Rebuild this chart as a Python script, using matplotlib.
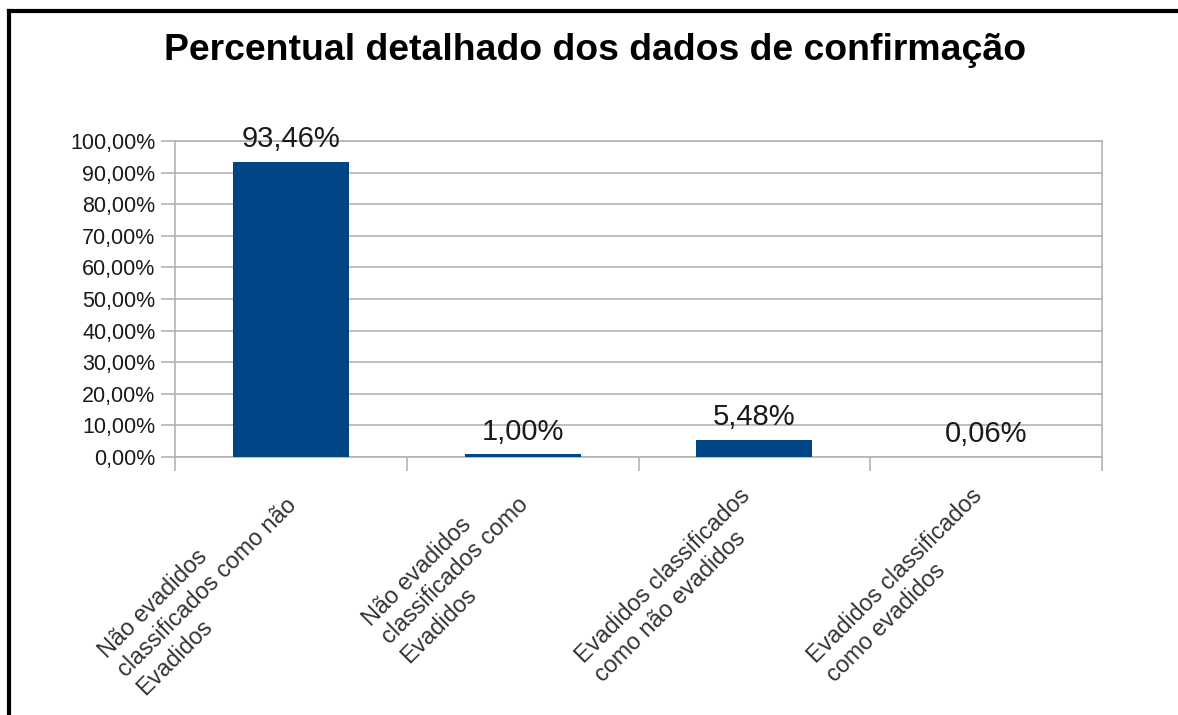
import matplotlib
matplotlib.use("Agg")
import matplotlib.pyplot as plt
from matplotlib.lines import Line2D
from matplotlib.transforms import ScaledTranslation
import numpy as np

categories = [
    "Não evadidos\nclassificados como não\nEvadidos",
    "Não evadidos\nclassificados como\nEvadidos",
    "Evadidos classificados\ncomo não evadidos",
    "Evadidos classificados\ncomo evadidos",
]
values = [93.46, 1.00, 5.48, 0.06]
value_labels = ["93,46%", "1,00%", "5,48%", "0,06%"]
yticks = [0, 10, 20, 30, 40, 50, 60, 70, 80, 90, 100]
ytick_labels = ["0,00%", "10,00%", "20,00%", "30,00%", "40,00%", "50,00%",
                "60,00%", "70,00%", "80,00%", "90,00%", "100,00%"]
title = "Percentual detalhado dos dados de confirmação"

plt.rcParams['font.family'] = ['Liberation Sans', 'DejaVu Sans']

W, H = 1178, 715
fig = plt.figure(figsize=(W/100, H/100), dpi=100)
ax = fig.add_axes([175/W, 1-457/H, (1102-175)/W, (457-141)/H])

x = np.arange(len(values))
bar_color = "#004586"
ax.bar(x, values, width=0.5, color=bar_color, zorder=3)
for xi, v, lab in zip(x, values, value_labels):
    ax.annotate(lab, (xi, v), xytext=(0, 6), textcoords="offset points",
                ha="center", va="bottom", fontsize=21, color="#1a1a1a",
                zorder=4)

ax.set_xlim(-0.5, len(values) - 0.5)
ax.set_ylim(0, 100)
ax.set_yticks(yticks)
ax.set_yticklabels(ytick_labels, fontsize=15.5, color="#1a1a1a")
ax.yaxis.grid(True, color="#b3b3b3", linewidth=1.2, zorder=0)
ax.set_axisbelow(True)

# major ticks at category boundaries, labels on minor ticks at centers
ax.set_xticks(np.arange(len(values) + 1) - 0.5)
ax.set_xticklabels([])
ax.set_xticks(x, minor=True)
ax.set_xticklabels(categories, minor=True, rotation=45, ha="right",
                   va="center", rotation_mode="anchor",
                   multialignment="left", fontsize=16.8, color="#333333")
ax.tick_params(axis="x", which="minor", length=0, pad=32)
ax.tick_params(axis="x", which="major", length=10, width=1.2, color="#b3b3b3")
ax.tick_params(axis="y", length=10, width=1.2, color="#b3b3b3", pad=4)
shift = ScaledTranslation(2/100, 0, fig.dpi_scale_trans)
for lab in ax.get_xticklabels(minor=True):
    lab.set_transform(lab.get_transform() + shift)

for s in ["left", "right", "bottom", "top"]:
    ax.spines[s].set_color("#b3b3b3")
    ax.spines[s].set_linewidth(1.2)

fig.text(595/W, 1-50/H, title, ha="center", va="center", fontsize=26.9,
         fontweight="bold", color="black")

# partial border (top and left)
fig.add_artist(Line2D([8.5/W, 1.0], [1-10.5/H, 1-10.5/H], color="black",
                      linewidth=3, transform=fig.transFigure))
fig.add_artist(Line2D([8.5/W, 8.5/W], [0, 1-10.5/H], color="black",
                      linewidth=3, transform=fig.transFigure))

fig.savefig("out.png", dpi=100, facecolor="white")
